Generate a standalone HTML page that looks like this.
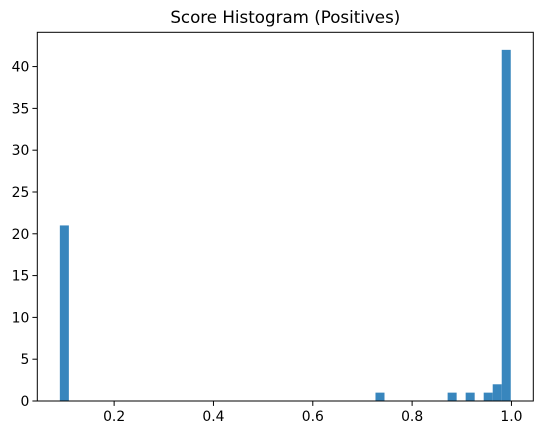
<!DOCTYPE html>
<html><head><meta charset="utf-8"><style>
html,body{margin:0;padding:0;background:#fff;width:543px;height:435px;overflow:hidden}
svg{display:block;font-family:"DejaVu Sans","Liberation Sans",sans-serif}
</style></head><body>
<svg id="chart" width="543" height="435" viewBox="0 0 543 435" xmlns="http://www.w3.org/2000/svg">
<text x="285.3" y="23" text-anchor="middle" font-size="16.7" fill="#000">Score Histogram (Positives)</text>
<g id="bars"></g>
<g id="axes"></g>
</svg>
<script>
const binStart = 0.0907;
const binEnd = 0.9986;
const counts = [21,0,0,0,0,0,0,0,0,0, 0,0,0,0,0,0,0,0,0,0, 0,0,0,0,0,0,0,0,0,0, 0,0,0,0,0,1,0,0,0,0, 0,0,0,1,0,1,0,1,2,42];
const xTicks = [0.2,0.4,0.6,0.8,1.0];
const xTickLabels = ["0.2","0.4","0.6","0.8","1.0"];
const yTicks = [0,5,10,15,20,25,30,35,40];
const yTickLabels = ["0","5","10","15","20","25","30","35","40"];
const xMin = 0.0453, xMax = 1.044, yMin = 0, yMax = 44.1;
const L = 37.3, R = 533.3, T = 32.3, B = 401;
const NS = "http://www.w3.org/2000/svg";
function xs(v){return L + (v - xMin) / (xMax - xMin) * (R - L);}
function ys(v){return B - (v - yMin) / (yMax - yMin) * (B - T);}
const bars = document.getElementById('bars');
const axes = document.getElementById('axes');
const w = (binEnd - binStart) / counts.length;
counts.forEach((c, i) => {
  if (c <= 0) return;
  const r = document.createElementNS(NS, 'rect');
  
  
  const x0 = xs(binStart + i * w), x1 = xs(binStart + (i + 1) * w);
  r.setAttribute('x', x0); r.setAttribute('width', x1 - x0);
  r.setAttribute('y', ys(c)); r.setAttribute('height', ys(0) - ys(c));
  r.setAttribute('fill', '#3886bd');
  bars.appendChild(r);
});
const frame = document.createElementNS(NS, 'rect');


frame.setAttribute('x', L); frame.setAttribute('y', T);
frame.setAttribute('width', R - L); frame.setAttribute('height', B - T);
frame.setAttribute('fill', 'none'); frame.setAttribute('stroke', '#000'); frame.setAttribute('stroke-width', '1');
axes.appendChild(frame);
xTicks.forEach((v, i) => {
  const x = xs(v);
  const t = document.createElementNS(NS, 'line');
  
  
  t.setAttribute('x1', x); t.setAttribute('x2', x); t.setAttribute('y1', B); t.setAttribute('y2', B + 4.9);
  t.setAttribute('stroke', '#000');
  axes.appendChild(t);
  const lb = document.createElementNS(NS, 'text');
  
  
  lb.setAttribute('x', x); lb.setAttribute('y', B + 20);
  lb.setAttribute('text-anchor', 'middle'); lb.setAttribute('font-size', '13.9');
  lb.textContent = xTickLabels[i];
  axes.appendChild(lb);
});
yTicks.forEach((v, i) => {
  const y = ys(v);
  const t = document.createElementNS(NS, 'line');
  
  
  t.setAttribute('x1', L - 4.9); t.setAttribute('x2', L); t.setAttribute('y1', y); t.setAttribute('y2', y);
  t.setAttribute('stroke', '#000');
  axes.appendChild(t);
  const lb = document.createElementNS(NS, 'text');
  
  
  lb.setAttribute('x', L - 8); lb.setAttribute('y', y + 5);
  lb.setAttribute('text-anchor', 'end'); lb.setAttribute('font-size', '13.9');
  lb.textContent = yTickLabels[i];
  axes.appendChild(lb);
});
</script>
</body></html>
